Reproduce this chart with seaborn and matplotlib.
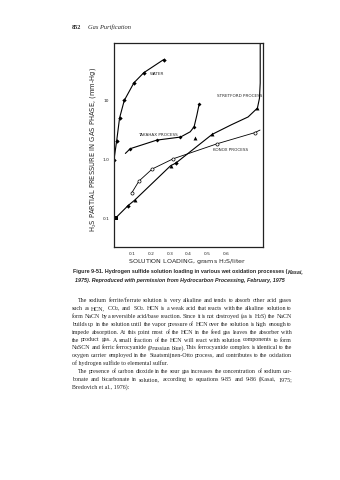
import numpy as np
import pandas as pd
import matplotlib
matplotlib.use("Agg")
import matplotlib.pyplot as plt
import seaborn as sns

# ---------------- data ----------------
water_x = [0.0, 0.014, 0.03, 0.055, 0.107, 0.16, 0.266]
water_y = [1.0, 2.04, 5.1, 10.1, 20.2, 30.0, 50.0]

takahax_curve_x = [0.061, 0.0875, 0.23, 0.357, 0.409, 0.43, 0.445, 0.457]
takahax_curve_y = [1.27, 1.53, 2.14, 2.41, 2.96, 3.6, 5.7, 8.7]
takahax_mark_x = [0.0875, 0.23, 0.357, 0.43, 0.457]
takahax_mark_y = [1.53, 2.14, 2.41, 3.6, 8.7]
takahax_tri_x = [0.434]
takahax_tri_y = [2.32]

stretford_curve_x = [0.0, 0.075, 0.112, 0.304, 0.332, 0.527, 0.63, 0.72, 0.77, 0.781, 0.785, 0.785]
stretford_curve_y = [0.095, 0.164, 0.205, 0.785, 0.87, 2.68, 3.9, 5.3, 7.5, 11.0, 20.0, 96.0]
stretford_tri_x = [0.112, 0.304, 0.527, 0.77]
stretford_tri_y = [0.205, 0.785, 2.68, 7.5]
stretford_dia_x = [0.075, 0.332]
stretford_dia_y = [0.164, 0.87]
stretford_box_x = [0.01]
stretford_box_y = [0.1]

konox_curve_x = [0.095, 0.134, 0.205, 0.318, 0.555, 0.755, 0.784]
konox_curve_y = [0.27, 0.43, 0.69, 1.03, 1.86, 2.86, 3.17]
konox_mark_x = [0.095, 0.134, 0.205, 0.318, 0.555, 0.755]
konox_mark_y = [0.27, 0.43, 0.69, 1.03, 1.86, 2.86]

x_ticks = [0.1, 0.2, 0.3, 0.4, 0.5, 0.6]
x_tick_labels = ["0.1", "0.2", "0.3", "0.4", "0.5", "0.6"]
y_ticks = [0.1, 1.0, 10.0]
y_tick_labels = ["0.1", "1.0", "10"]

series_labels = ["WATER", "STRETFORD PROCESS", "TAKAHAX PROCESS", "KONOX PROCESS"]

header_num = "852"
header_title = "Gas Purification"
x_label = "SOLUTION LOADING, grams H$_2$S/liter"
y_label = "H$_2$S PARTIAL PRESSURE IN GAS PHASE, (mm-Hg)"
caption_1 = "Figure 9-51. Hydrogen sulfide solution loading in various wet oxidation processes ("
caption_1b = "Kasai,"
caption_2 = "1975). Reproduced with permission from Hydrocarbon Processing, February, 1975"

body_lines = [
    "The sodium ferrite/ferrate solution is very alkaline and tends to absorb other acid gases",
    "such as HCN, CO$_2$, and SO$_2$. HCN is a weak acid that reacts with the alkaline solution to",
    "form NaCN by a reversible acid/base reaction. Since it is not destroyed (as is H$_2$S) the NaCN",
    "builds up in the solution until the vapor pressure of HCN over the solution is high enough to",
    "impede absorption. At this point most of the HCN in the feed gas leaves the absorber with",
    "the product gas. A small fraction of the HCN will react with solution components to form",
    "NaSCN and ferric ferrocyanide (Prussian blue). This ferrocyanide complex is identical to the",
    "oxygen carrier employed in the Staatsmijnen-Otto process, and contributes to the oxidation",
    "of hydrogen sulfide to elemental sulfur.",
    "The presence of carbon dioxide in the sour gas increases the concentration of sodium car-",
    "bonate and bicarbonate in solution, according to equations 9-85 and 9-86 (Kasai, 1975;",
    "Bredovich et al., 1976):",
]
justify = [True, True, True, True, True, True, True, True, False, True, True, False]
indent = [True, False, False, False, False, False, False, False, False, True, False, False]

# ---------------- figure ----------------
sns.set_style("white")
plt.rcParams["font.family"] = ["DejaVu Sans"]
plt.rcParams["mathtext.fontset"] = "custom"
plt.rcParams["mathtext.rm"] = "Liberation Serif"
W, H = 340, 480
fig = plt.figure(figsize=(W / 100, H / 100), dpi=100)
fig.patch.set_facecolor("white")

def fx(px):
    return px / W

def fy(py):
    return 1 - py / H

ax = fig.add_axes([fx(114), fy(247), fx(263) - fx(114), fy(43) - fy(247)])
ax.set_yscale("log")
ax.set_xlim(0, 0.8)
ax.set_ylim(0.0325, 96)

lw = 0.8
k = "black"
sns.lineplot(x=water_x, y=water_y, ax=ax, color=k, lw=lw, sort=False, estimator=None)
sns.scatterplot(x=water_x, y=water_y, ax=ax, color=k, marker="D", s=5, linewidth=0)

sns.lineplot(x=takahax_curve_x, y=takahax_curve_y, ax=ax, color=k, lw=lw, sort=False, estimator=None)
sns.scatterplot(x=takahax_mark_x, y=takahax_mark_y, ax=ax, color=k, marker="D", s=4, linewidth=0)
sns.scatterplot(x=takahax_tri_x, y=takahax_tri_y, ax=ax, color=k, marker="^", s=8, linewidth=0)

sns.lineplot(x=stretford_curve_x, y=stretford_curve_y, ax=ax, color=k, lw=lw, sort=False, estimator=None)
sns.scatterplot(x=stretford_tri_x, y=stretford_tri_y, ax=ax, color=k, marker="^", s=8, linewidth=0)
sns.scatterplot(x=stretford_dia_x, y=stretford_dia_y, ax=ax, color=k, marker="D", s=5, linewidth=0)
sns.scatterplot(x=stretford_box_x, y=stretford_box_y, ax=ax, color=k, marker="s", s=7, linewidth=0)

sns.lineplot(x=konox_curve_x, y=konox_curve_y, ax=ax, color=k, lw=0.6, sort=False, estimator=None)
sns.scatterplot(x=konox_mark_x, y=konox_mark_y, ax=ax, facecolor="white", edgecolor=k, marker="o",
                s=5, linewidth=0.5, zorder=5)

lab_fs = 3.0
ax.text(0.19, 29, series_labels[0], fontsize=lab_fs, va="center", ha="left")
ax.text(0.794, 12.1, series_labels[1], fontsize=lab_fs, va="center", ha="right")
ax.text(0.13, 2.6, series_labels[2], fontsize=lab_fs, va="center", ha="left")
ax.text(0.53, 1.45, series_labels[3], fontsize=lab_fs, va="center", ha="left")

ax.set_xticks(x_ticks)
ax.set_xticklabels(x_tick_labels)
ax.set_yticks(y_ticks)
ax.set_yticklabels(y_tick_labels)
ax.minorticks_off()
ax.tick_params(axis="both", labelsize=3.2, length=1.5, width=0.5, pad=2, direction="out")
for s in ax.spines.values():
    s.set_linewidth(0.9)
    s.set_color("#222222")
ax.set_xlabel("")
ax.set_ylabel("")

# axis titles
fig.text(fx(187), fy(262), x_label, fontsize=4.6, ha="center", va="center")
fig.text(fx(93), fy(149), y_label, fontsize=4.9, ha="center", va="center", rotation=90)

# header
fig.text(fx(72), fy(29), header_num, fontsize=4.4, fontweight="bold", family="Liberation Serif", va="baseline")
fig.text(fx(88), fy(29), header_title, fontsize=4.6, style="italic", family="Liberation Serif", va="baseline")

# caption
fig.canvas.draw()
renderer = fig.canvas.get_renderer()
t1 = fig.text(fx(73), fy(273), caption_1, fontsize=3.9, fontweight="bold", va="baseline",
              family="Liberation Sans")
bb = t1.get_window_extent(renderer)
fig.text(bb.x1 / W, fy(273), caption_1b, fontsize=3.9, fontweight="bold", style="italic",
         va="baseline", family="Liberation Sans")
fig.text(fx(75), fy(282), caption_2, fontsize=3.9, fontweight="bold", style="italic", va="baseline",
         family="Liberation Sans")

# body text, justified between x=72 and x=292
left, right = 72, 292
y0, dy = 302, 7.9


def word_widths(words, size):
    out = []
    for w in words:
        t = fig.text(0, 0, w, fontsize=size, family="Liberation Serif")
        out.append(t.get_window_extent(renderer).width)
        t.remove()
    return out


# choose a font size so that natural single-spaced width of the first line is ~ full width
probe = body_lines[0].split(" ")
wsum = sum(word_widths(probe, 4.0))
sp = fig.text(0, 0, "a a", fontsize=4.0, family="Liberation Serif")
sp_w = sp.get_window_extent(renderer).width - 2 * word_widths(["a"], 4.0)[0]
sp.remove()
natural = wsum + sp_w * (len(probe) - 1)
fs = 4.0 * (right - left - 6) / natural * 0.985

for i, line in enumerate(body_lines):
    y = y0 + i * dy
    start = left + (6 if indent[i] else 0)
    words = line.split(" ")
    if not justify[i]:
        fig.text(fx(start), fy(y), line, fontsize=fs, family="Liberation Serif", va="baseline")
        continue
    widths = word_widths(words, fs)
    gap = (right - start - sum(widths)) / max(len(words) - 1, 1)
    x = start
    for w, wd in zip(words, widths):
        fig.text(fx(x), fy(y), w, fontsize=fs, family="Liberation Serif", va="baseline")
        x += wd + gap

fig.savefig("out.png", dpi=100, facecolor="white")
